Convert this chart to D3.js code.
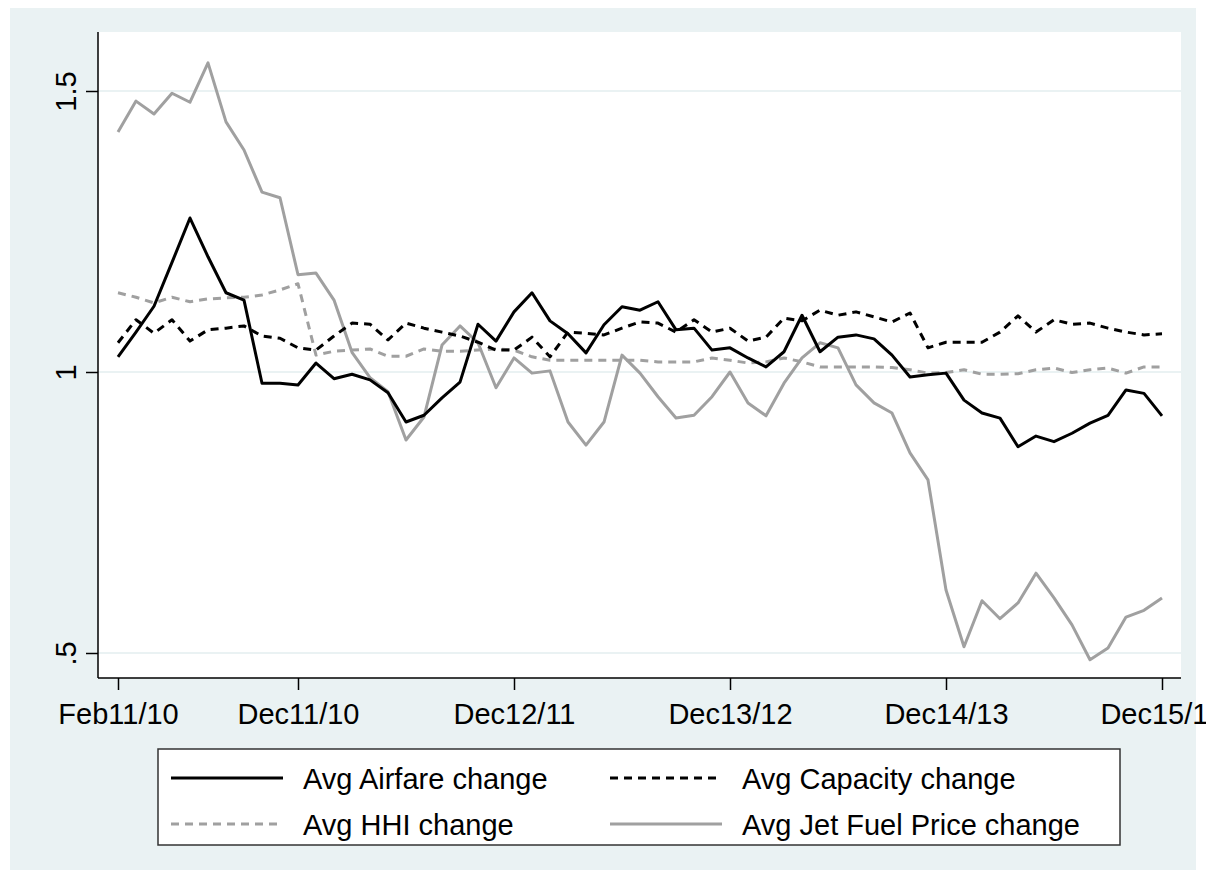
<!DOCTYPE html>
<meta charset="utf-8">
<script src="https://cdn.jsdelivr.net/npm/d3@7"></script>
<style>
  body { margin: 0; background: #fff; }
  svg text { font-family: "Liberation Sans", Arial, sans-serif; }
</style>
<div id="vis"></div>
<script>
// monthly averages, Feb 2011 (vs 2010) through Dec 2015 (vs 2014)
const airfare = [1.027, 1.071, 1.117, 1.195, 1.274, 1.205, 1.141, 1.128, 0.980, 0.980,
  0.977, 1.016, 0.988, 0.996, 0.986, 0.963, 0.911, 0.923, 0.954, 0.982,
  1.085, 1.055, 1.107, 1.141, 1.091, 1.068, 1.034, 1.084, 1.116, 1.110,
  1.125, 1.075, 1.078, 1.039, 1.043, 1.025, 1.009, 1.036, 1.101, 1.036,
  1.062, 1.066, 1.059, 1.030, 0.991, 0.995, 0.998, 0.950, 0.927, 0.918,
  0.867, 0.886, 0.876, 0.891, 0.909, 0.923, 0.968, 0.962, 0.922]
const capacity = [1.052, 1.093, 1.069, 1.093, 1.055, 1.075, 1.078, 1.082, 1.064, 1.060,
  1.043, 1.039, 1.064, 1.087, 1.085, 1.057, 1.087, 1.078, 1.071, 1.064,
  1.053, 1.039, 1.039, 1.062, 1.027, 1.071, 1.069, 1.066, 1.078, 1.089,
  1.087, 1.071, 1.093, 1.071, 1.078, 1.055, 1.062, 1.096, 1.091, 1.110,
  1.101, 1.107, 1.098, 1.089, 1.105, 1.043, 1.053, 1.053, 1.053, 1.071,
  1.100, 1.071, 1.093, 1.085, 1.087, 1.078, 1.071, 1.066, 1.068]
const hhi = [1.141, 1.133, 1.123, 1.133, 1.125, 1.130, 1.132, 1.133, 1.137, 1.146,
  1.157, 1.030, 1.037, 1.039, 1.041, 1.028, 1.028, 1.041, 1.037, 1.037,
  1.039, 1.041, 1.039, 1.027, 1.021, 1.021, 1.021, 1.021, 1.021, 1.021,
  1.018, 1.018, 1.018, 1.025, 1.021, 1.016, 1.018, 1.025, 1.018, 1.009,
  1.009, 1.009, 1.009, 1.008, 1.004, 0.998, 0.999, 1.004, 0.996, 0.996,
  0.997, 1.004, 1.007, 0.999, 1.004, 1.007, 0.998, 1.009, 1.009]
const jetFuel = [1.427, 1.482, 1.459, 1.496, 1.480, 1.550, 1.445, 1.395, 1.320, 1.310,
  1.173, 1.176, 1.128, 1.035, 0.990, 0.965, 0.879, 0.920, 1.048, 1.082,
  1.052, 0.972, 1.025, 0.998, 1.002, 0.911, 0.870, 0.911, 1.030, 0.998,
  0.956, 0.918, 0.923, 0.956, 1.000, 0.945, 0.922, 0.980, 1.025, 1.052,
  1.043, 0.977, 0.945, 0.927, 0.856, 0.808, 0.612, 0.511, 0.593, 0.561,
  0.589, 0.642, 0.598, 0.550, 0.488, 0.509, 0.564, 0.576, 0.598]

const xTickIdx = [0, 10, 22, 34, 46, 58]
const xTickLabels = ["Feb11/10", "Dec11/10", "Dec12/11", "Dec13/12", "Dec14/13", "Dec15/14"]
const yTicks = [0.5, 1, 1.5]
const yTickLabels = [".5", "1", "1.5"]

const seriesNames = ["Avg Airfare change", "Avg Capacity change", "Avg HHI change", "Avg Jet Fuel Price change"]

const W = 1206, H = 879
const bgCol = "#eaf2f3", grey = "#a0a0a0"
const plot = {left: 98, right: 1181, top: 32, bottom: 678}

const svg = d3.select("#vis").append("svg")
  .attr("width", W).attr("height", H)

svg.append("rect").attr("x", 10).attr("y", 8).attr("width", 1186).attr("height", 862)
  .attr("fill", bgCol)
svg.append("rect").attr("x", plot.left).attr("y", plot.top)
  .attr("width", plot.right - plot.left).attr("height", plot.bottom - plot.top)
  .attr("fill", "#fff")

const x = d3.scaleLinear().domain([0, 58]).range([118, 1162])
const y = d3.scaleLinear().domain([0.5, 1.5]).range([653, 91])

// gridlines
svg.append("g").selectAll("line").data(yTicks).join("line")
  .attr("x1", plot.left).attr("x2", plot.right)
  .attr("y1", d => y(d)).attr("y2", d => y(d))
  .attr("stroke", bgCol).attr("stroke-width", 2)

// y axis
const yAxis = svg.append("g").attr("transform", `translate(${plot.left},0)`)
  .call(d3.axisLeft(y).tickValues(yTicks).tickSize(12).tickPadding(0)
    .tickFormat((d, i) => yTickLabels[i]))
yAxis.select(".domain").attr("d", `M0,${plot.top}V${plot.bottom}`).attr("stroke-width", 1.5)
yAxis.selectAll(".tick line").attr("stroke-width", 1.5)
yAxis.selectAll(".tick text")
  .attr("transform", "rotate(-90)")
  .attr("x", 0).attr("y", -22).attr("dy", 0)
  .attr("text-anchor", "middle")
  .attr("font-size", 29).attr("fill", "#000")

// x axis
const xAxis = svg.append("g").attr("transform", `translate(0,${plot.bottom})`)
  .call(d3.axisBottom(x).tickValues(xTickIdx).tickSize(12).tickPadding(0)
    .tickFormat((d, i) => xTickLabels[i]))
xAxis.select(".domain").attr("d", `M${plot.left},0H${plot.right}`).attr("stroke-width", 1.5)
xAxis.selectAll(".tick line").attr("stroke-width", 1.5)
xAxis.selectAll(".tick text").attr("y", 46).attr("dy", 0)
  .attr("font-size", 29).attr("fill", "#000")

const series = [
  {name: seriesNames[0], values: airfare, color: "#000", dash: null},
  {name: seriesNames[1], values: capacity, color: "#000", dash: "8,6"},
  {name: seriesNames[2], values: hhi, color: grey, dash: "8,6"},
  {name: seriesNames[3], values: jetFuel, color: grey, dash: null}
]
const line = d3.line().x((d, i) => x(i)).y(d => y(d))

// draw order: fuel and hhi beneath
const drawOrder = [3, 2, 1, 0]
svg.append("g").selectAll("path").data(drawOrder.map(i => series[i])).join("path")
  .attr("d", d => line(d.values))
  .attr("fill", "none")
  .attr("stroke", d => d.color)
  .attr("stroke-width", 3)
  .attr("stroke-dasharray", d => d.dash)
  .attr("stroke-linejoin", "round")

// legend
const lg = svg.append("g")
lg.append("rect").attr("x", 158).attr("y", 749).attr("width", 962).attr("height", 96)
  .attr("fill", "#fff").attr("stroke", "#333").attr("stroke-width", 1.5)
const legPos = [
  {lx: 171, ty: 778}, {lx: 610, ty: 778},
  {lx: 171, ty: 824}, {lx: 610, ty: 824}
]
series.forEach((s, i) => {
  const p = legPos[i]
  lg.append("line").attr("x1", p.lx).attr("x2", p.lx + 112)
    .attr("y1", p.ty).attr("y2", p.ty)
    .attr("stroke", s.color).attr("stroke-width", 3)
    .attr("stroke-dasharray", s.dash)
  lg.append("text").attr("x", p.lx + 132).attr("y", p.ty + 11)
    .attr("font-size", 29).attr("fill", "#000").text(s.name)
})
</script>
